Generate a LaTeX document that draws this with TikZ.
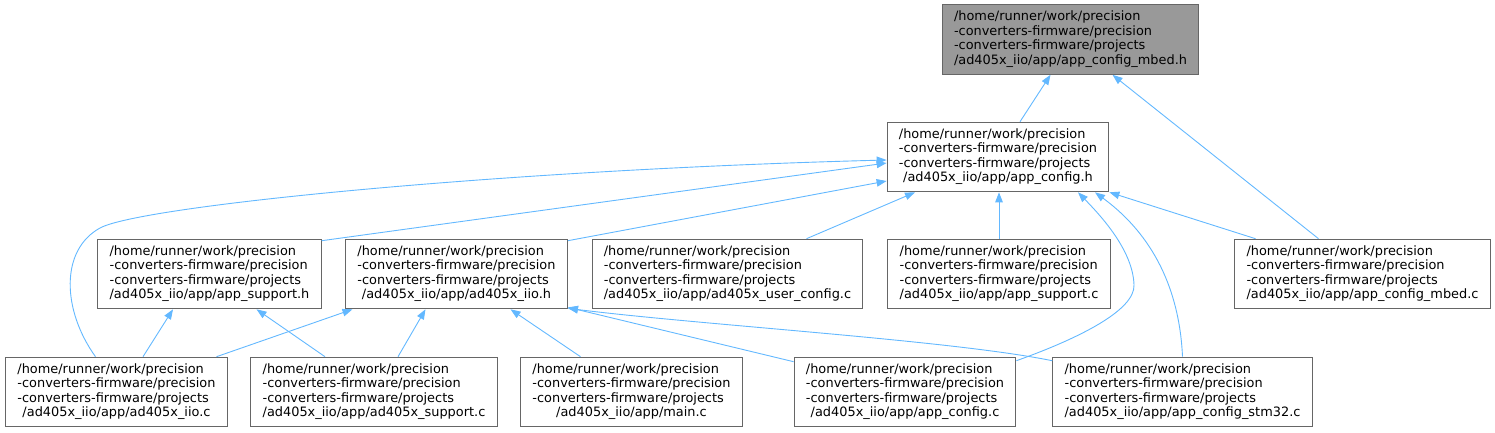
\documentclass[tikz,border=0pt]{standalone}
\usepackage{fontspec}
\setmainfont{DejaVu Sans}
\usetikzlibrary{arrows.meta}
\definecolor{edgec}{HTML}{63B8FF}
\definecolor{boxc}{HTML}{666666}
\definecolor{rootc}{HTML}{999999}
\newcommand{\fpath}[1]{\begin{tabular}{@{}l@{}}/home/runner/work/precision\\-converters-firmware/precision\\-converters-firmware/projects\\\multicolumn{1}{@{}c@{}}{/ad405x\_iio/app/#1}\end{tabular}}
\begin{document}
\begin{tikzpicture}[x=1pt,y=-1pt,
  file/.style={draw=boxc, line width=1.1pt, rectangle, inner xsep=11.8pt, inner ysep=0pt,
    minimum height=69.5pt, font=\fontsize{12.9}{14.5}\selectfont, text=black},
  root/.style={file, fill=rootc},
  edge/.style={draw=edgec, line width=0.9pt, -{Triangle[length=10pt,width=7.5pt]}}]
\useasboundingbox (0,0) rectangle (1495,432);
\node[root] (mbedh) at (1070.5,39.5) {\fpath{app\_config\_mbed.h}};
\node[file] (cfgh) at (998,157) {\fpath{app\_config.h}};
\node[file] (supph) at (209.5,274) {\fpath{app\_support.h}};
\node[file] (iioh) at (456.5,274) {\fpath{ad405x\_iio.h}};
\node[file] (userc) at (727.5,274) {\fpath{ad405x\_user\_config.c}};
\node[file] (suppc) at (999,274) {\fpath{app\_support.c}};
\node[file] (mbedc) at (1362.5,274) {\fpath{app\_config\_mbed.c}};
\node[file] (iioc) at (116.5,392) {\fpath{ad405x\_iio.c}};
\node[file] (adsuppc) at (374,392) {\fpath{ad405x\_support.c}};
\node[file] (mainc) at (631.5,392) {\fpath{main.c}};
\node[file] (cfgc) at (905,392) {\fpath{app\_config.c}};
\node[file] (stm32c) at (1182.5,392) {\fpath{app\_config\_stm32.c}};

\draw[edge] ([xshift=22pt]cfgh.north) -- ([xshift=-20pt]mbedh.south);
\draw[edge] ([xshift=-44pt]mbedc.north) -- ([xshift=42pt]mbedh.south);
\draw[edge] ([xshift=-21pt]iioc.north) .. controls (62,310) and (60,250) .. (100,228)
  .. controls (140,206) and (500,170) .. ([yshift=-3pt]cfgh.west);
\draw[edge] ([yshift=-2pt]supph.north east) -- ([yshift=-6pt]cfgh.west);
\draw[edge] ([yshift=-2pt]iioh.north east) -- ([yshift=-24pt]cfgh.west);
\draw[edge] ([xshift=79pt]userc.north) -- ([xshift=-83pt]cfgh.south);
\draw[edge] (suppc.north) -- (suppc.north |- cfgh.south);
\draw[edge] ([yshift=-4pt]cfgc.north east) .. controls (1080,338) and (1135,310) .. (1134,285)
  .. controls (1133,250) and (1100,215) .. ([xshift=80pt]cfgh.south);
\draw[edge] (stm32c.north) .. controls (1180,300) and (1160,240) .. ([xshift=97pt]cfgh.south);
\draw[edge] ([xshift=-107pt]mbedc.north) -- (cfgh.south east);
\draw[edge] ([xshift=26.5pt]iioc.north) -- ([xshift=-36.5pt]supph.south);
\draw[edge] ([xshift=-49pt]adsuppc.north) -- ([xshift=47pt]supph.south);
\draw[edge] ([xshift=100pt]iioc.north) -- ([xshift=-104pt]iioh.south);
\draw[edge] ([xshift=24pt]adsuppc.north) -- ([xshift=-31pt]iioh.south);
\draw[edge] ([xshift=-51pt]mainc.north) -- ([xshift=54pt]iioh.south);
\draw[edge] ([yshift=-5pt]cfgc.north west) -- ([yshift=2pt]iioh.south east);
\draw[edge] ([yshift=-4pt]stm32c.north west) .. controls (950,340) and (700,325) .. ([yshift=1pt]iioh.south east);
\end{tikzpicture}
\end{document}
